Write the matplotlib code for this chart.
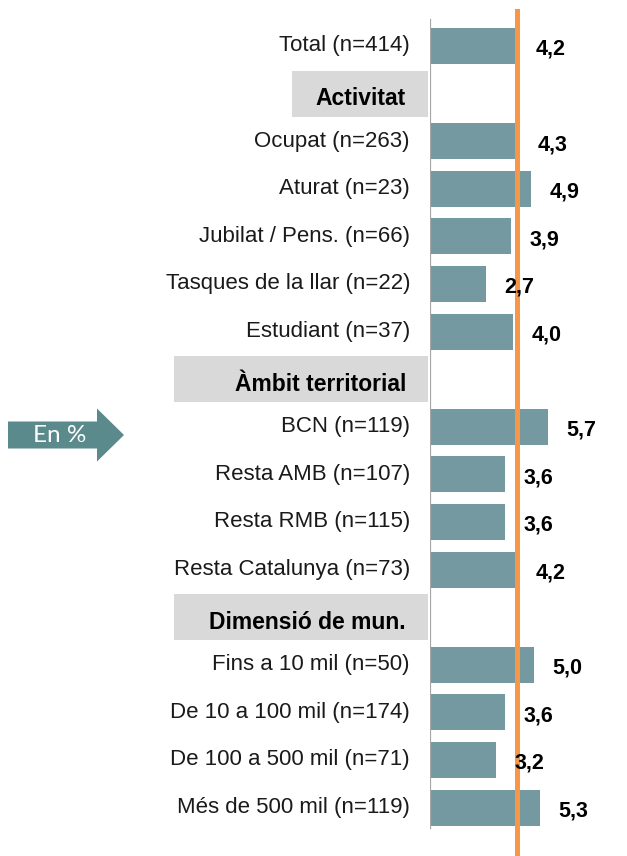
import matplotlib
matplotlib.use("Agg")
import matplotlib.pyplot as plt
from matplotlib.patches import Rectangle, FancyArrow

plt.rcParams['font.family'] = ['Liberation Sans', 'DejaVu Sans']

# rows top to bottom; None = section header
row_labels = ["Total (n=414)", "Activitat", "Ocupat (n=263)", "Aturat (n=23)",
              "Jubilat / Pens. (n=66)", "Tasques de la llar (n=22)", "Estudiant (n=37)",
              "Àmbit territorial", "BCN (n=119)", "Resta AMB (n=107)", "Resta RMB (n=115)",
              "Resta Catalunya (n=73)", "Dimensió de mun.", "Fins a 10 mil (n=50)",
              "De 10 a 100 mil (n=174)", "De 100 a 500 mil (n=71)", "Més de 500 mil (n=119)"]
values = [4.2, None, 4.3, 4.9, 3.9, 2.7, 4.0, None, 5.7, 3.6, 3.6, 4.2, None, 5.0, 3.6, 3.2, 5.3]
total_value = 4.2

W, H = 627, 856
fig = plt.figure(figsize=(W / 100, H / 100), dpi=100)

ax_left = 430 / W
ax = fig.add_axes([ax_left, 0, 1 - ax_left, 1])
px_per_unit = 20.7
row_px = 47.6
first_px = 46
ax.set_xlim(0, (W - 430) / px_per_unit)
ax.set_ylim((H - first_px) / row_px, -first_px / row_px)
ax.axis('off')

bar_color = '#7599A1'
for i, (lab, v) in enumerate(zip(row_labels, values)):
    if v is None:
        # section header with grey box
        left_px = 292 if i == 1 else 174
        yc = 1 - (first_px + i * row_px) / H
        bh = 46 / H
        fig.patches.append(Rectangle((left_px / W, yc - bh / 2), (428 - left_px) / W, bh,
                                     transform=fig.transFigure, facecolor='#D9D9D9',
                                     edgecolor='none', zorder=0))
        fig.text(406 / W, yc - 5 / H, lab, ha='right', va='center', fontsize=16.5,
                 fontweight='bold', color='black')
        continue
    ax.barh(i, v, height=0.76, color=bar_color, zorder=2)
    ax.text(v + 0.9, i + 0.07, f"{v:.1f}".replace('.', ','), ha='left', va='center',
            fontsize=15.5, fontweight='bold', color='black', zorder=4)
    fig.text(410 / W, 1 - (first_px + i * row_px) / H, lab, ha='right', va='center',
             fontsize=16, color='#1a1a1a')

# left axis line and average line
ax.axvline(0, ymin=(H - 828) / H, ymax=1 - 20 / H, color='#A6A6A6', lw=1.6, zorder=3)
ax.axvline(total_value, ymin=0, ymax=1 - 11 / H, color='#F79646', lw=3.6, zorder=3)

# "En %" arrow
arrow = FancyArrow(8 / W, 1 - 435 / H, 116 / W, 0, width=27 / H, head_width=53 / H,
                   head_length=27 / W, length_includes_head=True,
                   transform=fig.transFigure, facecolor='#5B8A8C', edgecolor='none')
fig.patches.append(arrow)
fig.text(60 / W, 1 - 436 / H, "En %", ha='center', va='center', fontsize=17.5,
         color='white', family=['Lato', 'DejaVu Sans'])

fig.savefig("out.png", dpi=100)
